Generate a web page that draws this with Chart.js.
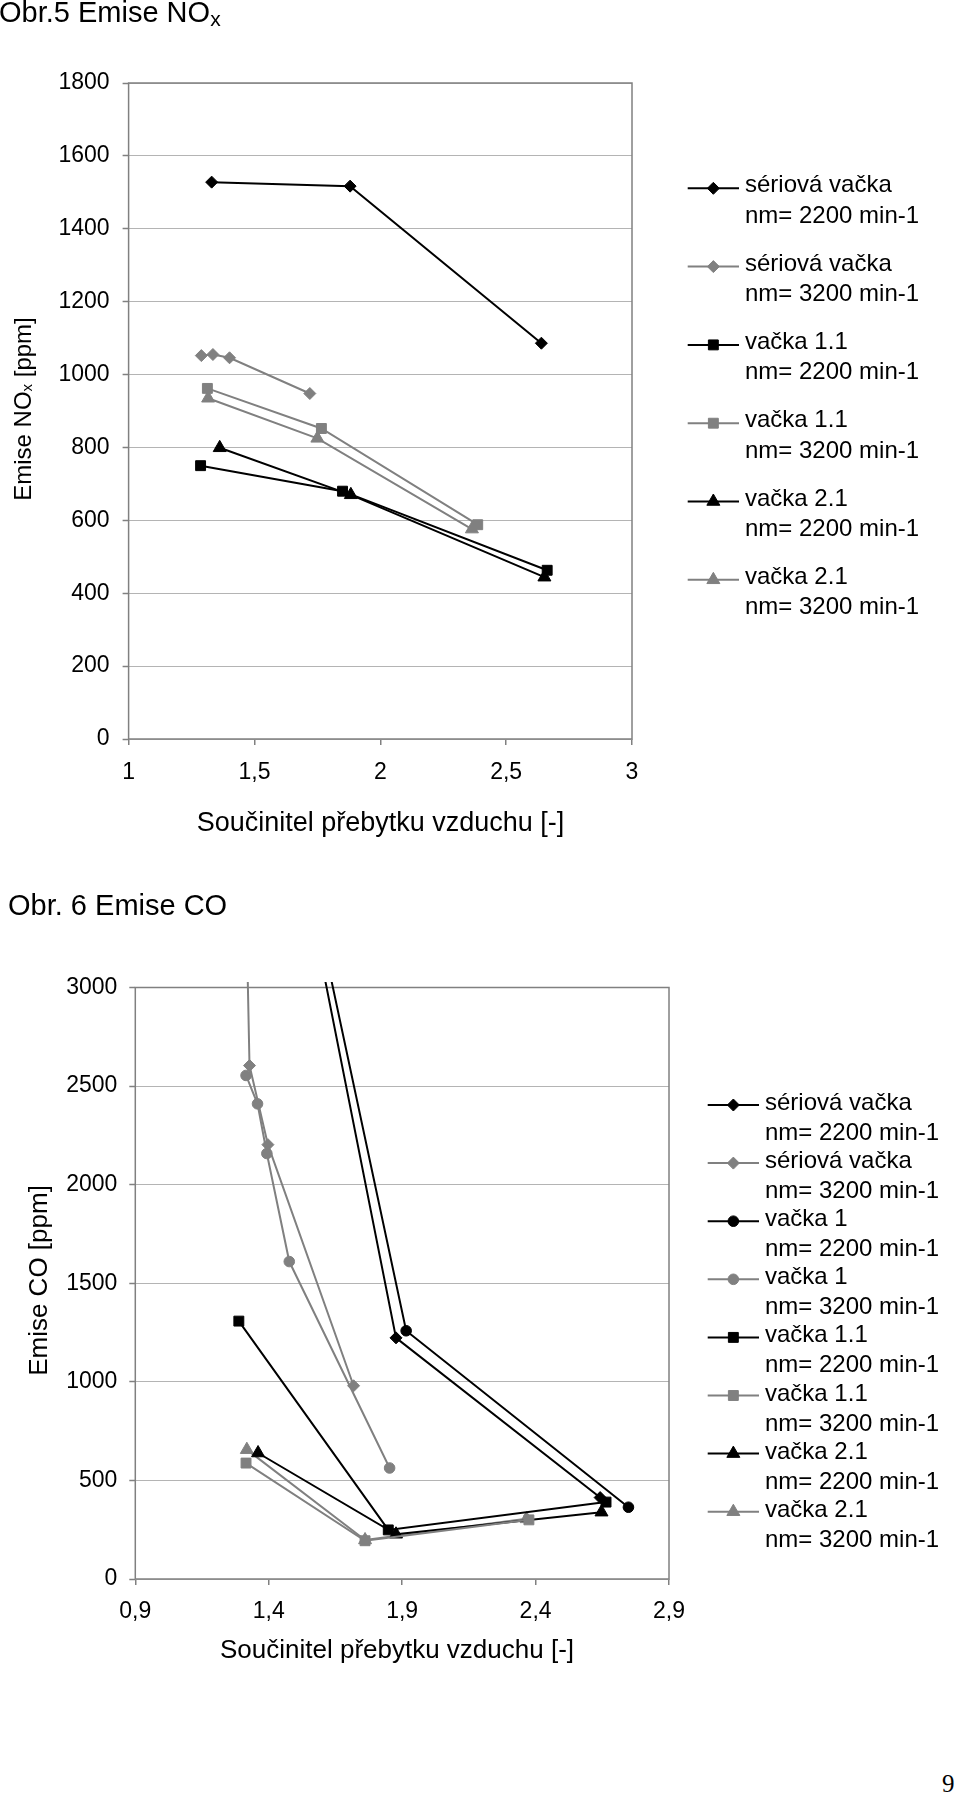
<!DOCTYPE html>
<html>
<head>
<meta charset="utf-8">
<script src="https://cdn.jsdelivr.net/npm/chart.js@4.4.1/dist/chart.umd.min.js"></script>
<style>
html,body{margin:0;padding:0;background:#fff;width:960px;height:1796px;overflow:hidden;}
body{position:relative;font-family:"Liberation Sans",Arial,Helvetica,sans-serif;}
canvas{position:absolute;left:0;}
.t{position:absolute;font-size:29px;line-height:29px;color:#000;white-space:nowrap;z-index:2;}
.t sub{font-size:21px;vertical-align:baseline;position:relative;top:4px;}
#pg{position:absolute;font-family:"Liberation Serif","Times New Roman",serif;font-size:25px;line-height:25px;color:#000;z-index:2;}
</style>
</head>
<body>
<canvas id="c1" width="960" height="880" style="top:0px"></canvas>
<canvas id="c2" width="960" height="820" style="top:880px"></canvas>
<div class="t" style="left:-1px;top:-2px">Obr.5 Emise NO<sub>x</sub></div>
<div class="t" style="left:8px;top:891px">Obr. 6 Emise CO</div>
<div id="pg" style="left:942px;top:1771px">9</div>
<script>
// ================= DATA: Obr.5 Emise NOx =================
const noxXTicks = [1, 1.5, 2, 2.5, 3];
const noxXTickLabels = ['1', '1,5', '2', '2,5', '3'];
const noxYTicks = [0, 200, 400, 600, 800, 1000, 1200, 1400, 1600, 1800];
const noxYTickLabels = ['0', '200', '400', '600', '800', '1000', '1200', '1400', '1600', '1800'];

const noxCamNames = ['sériová vačka', 'sériová vačka', 'vačka 1.1', 'vačka 1.1', 'vačka 2.1', 'vačka 2.1'];
const noxSpeedNames = ['nm= 2200 min-1', 'nm= 3200 min-1', 'nm= 2200 min-1', 'nm= 3200 min-1', 'nm= 2200 min-1', 'nm= 3200 min-1'];

const noxSerial2200X = [1.33, 1.88, 2.64];
const noxSerial2200Y = [1528, 1517, 1086];
const noxSerial3200X = [1.289, 1.335, 1.401, 1.72];
const noxSerial3200Y = [1052, 1055, 1046, 948];
const noxCam11_2200X = [1.286, 1.85, 2.663];
const noxCam11_2200Y = [750, 680, 463];
const noxCam11_3200X = [1.313, 1.766, 2.387];
const noxCam11_3200Y = [962, 852, 588];
const noxCam21_2200X = [1.362, 1.883, 2.652];
const noxCam21_2200Y = [799, 670, 444];
const noxCam21_3200X = [1.316, 1.75, 2.364];
const noxCam21_3200Y = [935, 825, 576];

// ================= DATA: Obr. 6 Emise CO =================
const coXTicks = [0.9, 1.4, 1.9, 2.4, 2.9];
const coXTickLabels = ['0,9', '1,4', '1,9', '2,4', '2,9'];
const coYTicks = [0, 500, 1000, 1500, 2000, 2500, 3000];
const coYTickLabels = ['0', '500', '1000', '1500', '2000', '2500', '3000'];

const coCamNames = ['sériová vačka', 'sériová vačka', 'vačka 1', 'vačka 1', 'vačka 1.1', 'vačka 1.1', 'vačka 2.1', 'vačka 2.1'];
const coSpeedNames = ['nm= 2200 min-1', 'nm= 3200 min-1', 'nm= 2200 min-1', 'nm= 3200 min-1', 'nm= 2200 min-1', 'nm= 3200 min-1', 'nm= 2200 min-1', 'nm= 3200 min-1'];

const coSerial2200X = [1.33, 1.877, 2.642];
const coSerial2200Y = [4960, 1223, 413];
const coSerial3200X = [1.289, 1.328, 1.397, 1.718];
const coSerial3200Y = [5175, 2604, 2203, 980];
const coCam1_2200X = [1.33, 1.915, 2.748];
const coCam1_2200Y = [4970, 1259, 364];
const coCam1_3200X = [1.315, 1.358, 1.393, 1.477, 1.853];
const coCam1_3200Y = [2554, 2410, 2158, 1610, 563];
const coCam11_2200X = [1.288, 1.848, 2.664];
const coCam11_2200Y = [1308, 249, 390];
const coCam11_3200X = [1.315, 1.761, 2.375];
const coCam11_3200Y = [588, 194, 300];
const coCam21_2200X = [1.36, 1.877, 2.647];
const coCam21_2200Y = [639, 227, 339];
const coCam21_3200X = [1.318, 1.761, 2.366];
const coCam21_3200Y = [656, 198, 305];

// ================= STYLE =================
const FONT = '"Liberation Sans", Arial, Helvetica, sans-serif';
const BLACK = '#000000';
const GRAY = '#808080';
const GRID = '#b4b4b4';
const FRAME = '#808080';
const MARK = { rectRot: 6, rect: 7, triangle: 7.5, circle: 5.3 };

function series(xs, ys, cam, speed, color, style, clip) {
  return {
    label: cam + ' ' + speed,
    legendLines: [cam, speed],
    data: xs.map((x, i) => ({ x: x, y: ys[i] })),
    showLine: true,
    borderColor: color,
    backgroundColor: color,
    borderWidth: 2,
    pointStyle: style,
    pointRadius: MARK[style],
    pointHoverRadius: MARK[style],
    pointBackgroundColor: color,
    pointBorderColor: color,
    pointBorderWidth: 1,
    tension: 0,
    fill: false,
    clip: clip
  };
}

function drawMarker(ctx, style, r, x, y) {
  ctx.beginPath();
  if (style === 'circle') {
    ctx.arc(x, y, r, 0, Math.PI * 2);
  } else if (style === 'rect') {
    const s = r * Math.SQRT1_2;
    ctx.rect(x - s, y - s, 2 * s, 2 * s);
  } else if (style === 'rectRot') {
    ctx.moveTo(x, y - r); ctx.lineTo(x + r, y); ctx.lineTo(x, y + r); ctx.lineTo(x - r, y); ctx.closePath();
  } else if (style === 'triangle') {
    for (let k = 0; k < 3; k++) {
      const a = k * 2 * Math.PI / 3;
      const px = x + Math.sin(a) * r, py = y - Math.cos(a) * r;
      if (k === 0) ctx.moveTo(px, py); else ctx.lineTo(px, py);
    }
    ctx.closePath();
  }
  ctx.fill();
  ctx.stroke();
}

const decorPlugin = {
  id: 'decor',
  beforeDatasetsDraw(chart, args, o) {
    const a = chart.chartArea, ctx = chart.ctx;
    ctx.save();
    ctx.strokeStyle = FRAME;
    ctx.lineWidth = 1.5;
    ctx.strokeRect(a.left, a.top, a.right - a.left, a.bottom - a.top);
    ctx.restore();
  },
  afterDraw(chart, args, o) {
    const ctx = chart.ctx;
    ctx.save();
    ctx.fillStyle = '#000';
    // x axis title
    ctx.font = o.xTitleSize + 'px ' + FONT;
    ctx.textAlign = 'center';
    ctx.textBaseline = 'alphabetic';
    ctx.fillText(o.xTitle, o.xTitleX, o.xTitleY);
    // y axis title (rotated, with optional subscript parts)
    ctx.save();
    ctx.translate(o.yTitleX, o.yTitleY);
    ctx.rotate(-Math.PI / 2);
    ctx.textAlign = 'left';
    let total = 0;
    o.yTitleParts.forEach(p => { ctx.font = p[1] + 'px ' + FONT; total += ctx.measureText(p[0]).width; });
    let u = -total / 2;
    o.yTitleParts.forEach(p => {
      ctx.font = p[1] + 'px ' + FONT;
      ctx.fillText(p[0], u, p[2]);
      u += ctx.measureText(p[0]).width;
    });
    ctx.restore();
    // legend
    chart.data.datasets.forEach((ds, i) => {
      const y = o.legY0 + i * o.legDy;
      ctx.save();
      ctx.strokeStyle = ds.borderColor;
      ctx.lineWidth = ds.borderWidth;
      ctx.beginPath();
      ctx.moveTo(o.legX1, y);
      ctx.lineTo(o.legX2, y);
      ctx.stroke();
      ctx.fillStyle = ds.pointBackgroundColor;
      ctx.strokeStyle = ds.pointBorderColor;
      ctx.lineWidth = ds.pointBorderWidth;
      drawMarker(ctx, ds.pointStyle, ds.pointRadius, (o.legX1 + o.legX2) / 2, y);
      ctx.fillStyle = '#000';
      ctx.font = o.legSize + 'px ' + FONT;
      ctx.textAlign = 'left';
      ctx.textBaseline = 'alphabetic';
      ctx.fillText(ds.legendLines[0], o.legTX, y + o.legB1);
      ctx.fillText(ds.legendLines[1], o.legTX, y + o.legB2);
      ctx.restore();
    });
    ctx.restore();
  }
};

function scales(xTicks, xLabels, xMin, xMax, xHeight, xPad, yTicks, yLabels, yMax, yWidth, yPad) {
  return {
    x: {
      type: 'linear', position: 'bottom', min: xMin, max: xMax,
      afterBuildTicks: s => { s.ticks = xTicks.map(v => ({ value: v })); },
      afterFit: s => { s.height = xHeight; },
      grid: { drawOnChartArea: false, drawTicks: true, tickLength: 6, color: FRAME, lineWidth: 1.5 },
      border: { display: false },
      ticks: { callback: (v, i) => xLabels[i], color: '#000', font: { family: FONT, size: 23 }, padding: xPad, maxRotation: 0, autoSkip: false }
    },
    y: {
      type: 'linear', position: 'left', min: 0, max: yMax,
      afterBuildTicks: s => { s.ticks = yTicks.map(v => ({ value: v })); },
      afterFit: s => { s.width = yWidth; },
      grid: { color: GRID, lineWidth: 1, drawTicks: true, tickLength: 6, tickColor: FRAME, tickWidth: 1.5 },
      border: { display: false },
      ticks: { callback: (v, i) => yLabels[i], color: '#000', font: { family: FONT, size: 23 }, padding: yPad, autoSkip: false }
    }
  };
}

// ================= CHART 1: NOx =================
const noxDatasets = [
  series(noxSerial2200X, noxSerial2200Y, noxCamNames[0], noxSpeedNames[0], BLACK, 'rectRot', 0),
  series(noxSerial3200X, noxSerial3200Y, noxCamNames[1], noxSpeedNames[1], GRAY, 'rectRot', 0),
  series(noxCam11_2200X, noxCam11_2200Y, noxCamNames[2], noxSpeedNames[2], BLACK, 'rect', 0),
  series(noxCam11_3200X, noxCam11_3200Y, noxCamNames[3], noxSpeedNames[3], GRAY, 'rect', 0),
  series(noxCam21_2200X, noxCam21_2200Y, noxCamNames[4], noxSpeedNames[4], BLACK, 'triangle', 0),
  series(noxCam21_3200X, noxCam21_3200Y, noxCamNames[5], noxSpeedNames[5], GRAY, 'triangle', 0)
];

new Chart(document.getElementById('c1'), {
  type: 'scatter',
  data: { datasets: noxDatasets },
  options: {
    responsive: false, animation: false, events: [],
    layout: { padding: { top: 83, right: 328, bottom: 0, left: 0 } },
    scales: scales(noxXTicks, noxXTickLabels, 1, 3, 141, 14, noxYTicks, noxYTickLabels, 1800, 128.6, 13),
    plugins: {
      legend: { display: false }, tooltip: { enabled: false },
      decor: {
        xTitle: 'Součinitel přebytku vzduchu [-]', xTitleSize: 27, xTitleX: 380.5, xTitleY: 831,
        yTitleParts: [['Emise NO', 24, 0], ['x', 15, 1], [' [ppm]', 24, 0]], yTitleX: 30.7, yTitleY: 409,
        legX1: 687.7, legX2: 739, legTX: 745, legY0: 188.3, legDy: 78.3, legB1: 4, legB2: 34.4, legSize: 24
      }
    }
  },
  plugins: [decorPlugin]
});

// ================= CHART 2: CO =================
const topClip = { left: 0, top: 5.5, right: 0, bottom: 0 };
const coDatasets = [
  series(coSerial2200X, coSerial2200Y, coCamNames[0], coSpeedNames[0], BLACK, 'rectRot', topClip),
  series(coSerial3200X, coSerial3200Y, coCamNames[1], coSpeedNames[1], GRAY, 'rectRot', topClip),
  series(coCam1_2200X, coCam1_2200Y, coCamNames[2], coSpeedNames[2], BLACK, 'circle', topClip),
  series(coCam1_3200X, coCam1_3200Y, coCamNames[3], coSpeedNames[3], GRAY, 'circle', topClip),
  series(coCam11_2200X, coCam11_2200Y, coCamNames[4], coSpeedNames[4], BLACK, 'rect', topClip),
  series(coCam11_3200X, coCam11_3200Y, coCamNames[5], coSpeedNames[5], GRAY, 'rect', topClip),
  series(coCam21_2200X, coCam21_2200Y, coCamNames[6], coSpeedNames[6], BLACK, 'triangle', topClip),
  series(coCam21_3200X, coCam21_3200Y, coCamNames[7], coSpeedNames[7], GRAY, 'triangle', topClip)
];

new Chart(document.getElementById('c2'), {
  type: 'scatter',
  data: { datasets: coDatasets },
  options: {
    responsive: false, animation: false, events: [],
    layout: { padding: { top: 107.5, right: 291, bottom: 0, left: 0 } },
    scales: scales(coXTicks, coXTickLabels, 0.9, 2.9, 121, 13, coYTicks, coYTickLabels, 3000, 135.3, 12),
    plugins: {
      legend: { display: false }, tooltip: { enabled: false },
      decor: {
        xTitle: 'Součinitel přebytku vzduchu [-]', xTitleSize: 26, xTitleX: 397, xTitleY: 778,
        yTitleParts: [['Emise CO [ppm]', 26, 0]], yTitleX: 46.7, yTitleY: 400.5,
        legX1: 707.7, legX2: 759, legTX: 765, legY0: 225, legDy: 58.1, legB1: 5, legB2: 35, legSize: 24
      }
    }
  },
  plugins: [decorPlugin]
});
</script>
</body>
</html>
